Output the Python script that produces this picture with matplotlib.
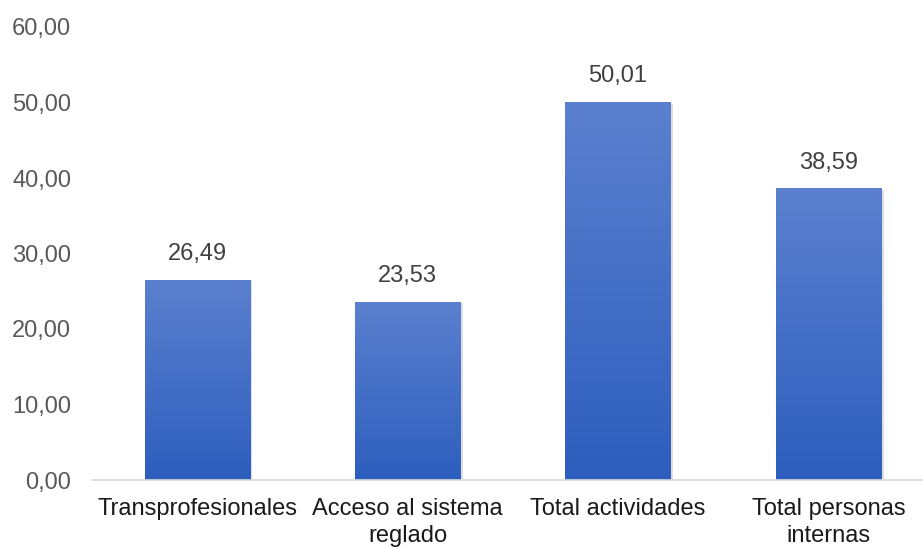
import numpy as np
import matplotlib
matplotlib.use("Agg")
import matplotlib.pyplot as plt
from matplotlib.colors import LinearSegmentedColormap

plt.rcParams['font.family'] = ['Liberation Sans', 'DejaVu Sans']

categories = ['Transprofesionales', 'Acceso al sistema\nreglado',
              'Total actividades', 'Total personas\ninternas']
values = [26.49, 23.53, 50.01, 38.59]
value_labels = ['26,49', '23,53', '50,01', '38,59']
yticks = [0, 10, 20, 30, 40, 50, 60]
ytick_labels = ['0,00', '10,00', '20,00', '30,00', '40,00', '50,00', '60,00']

W, H = 923, 547
fig = plt.figure(figsize=(W / 100, H / 100), dpi=100)
ax = fig.add_axes([92 / W, 67 / H, (923 - 92) / W, 453 / H])

x = np.arange(len(categories))
bw = 0.5
grad = LinearSegmentedColormap.from_list('g', ['#2d5ebd', '#5b80cf'])
gimg = np.linspace(0, 1, 256).reshape(-1, 1)

for xi, v in zip(x, values):
    # soft shadow
    ax.bar(xi + 0.012, v, width=bw, bottom=-0.15, color='#bfbfbf', alpha=0.5, zorder=1)
    ax.imshow(gimg, cmap=grad, origin='lower', aspect='auto',
              extent=(xi - bw / 2, xi + bw / 2, 0, v), zorder=2)

for xi, v, lab in zip(x, values, value_labels):
    ax.text(xi, v + 2.0, lab, ha='center', va='bottom', fontsize=17, color='#404040')

ax.set_xlim(-0.5, 3 + (923 - 828.5) / 210.5)
ax.set_ylim(0, 60)
ax.set_yticks(yticks)
ax.set_yticklabels(ytick_labels, fontsize=17, color='#595959')
ax.set_xticks(x)
ax.set_xticklabels(categories, fontsize=17, color='#1a1a1a', linespacing=1.3)
ax.tick_params(axis='both', length=0)
ax.tick_params(axis='y', pad=15)
ax.tick_params(axis='x', pad=13)

for s in ['top', 'right', 'left']:
    ax.spines[s].set_visible(False)
ax.spines['bottom'].set_color('#d9d9d9')
ax.spines['bottom'].set_linewidth(1.2)
ax.set_zorder(1)

fig.savefig('out.png', dpi=100)
